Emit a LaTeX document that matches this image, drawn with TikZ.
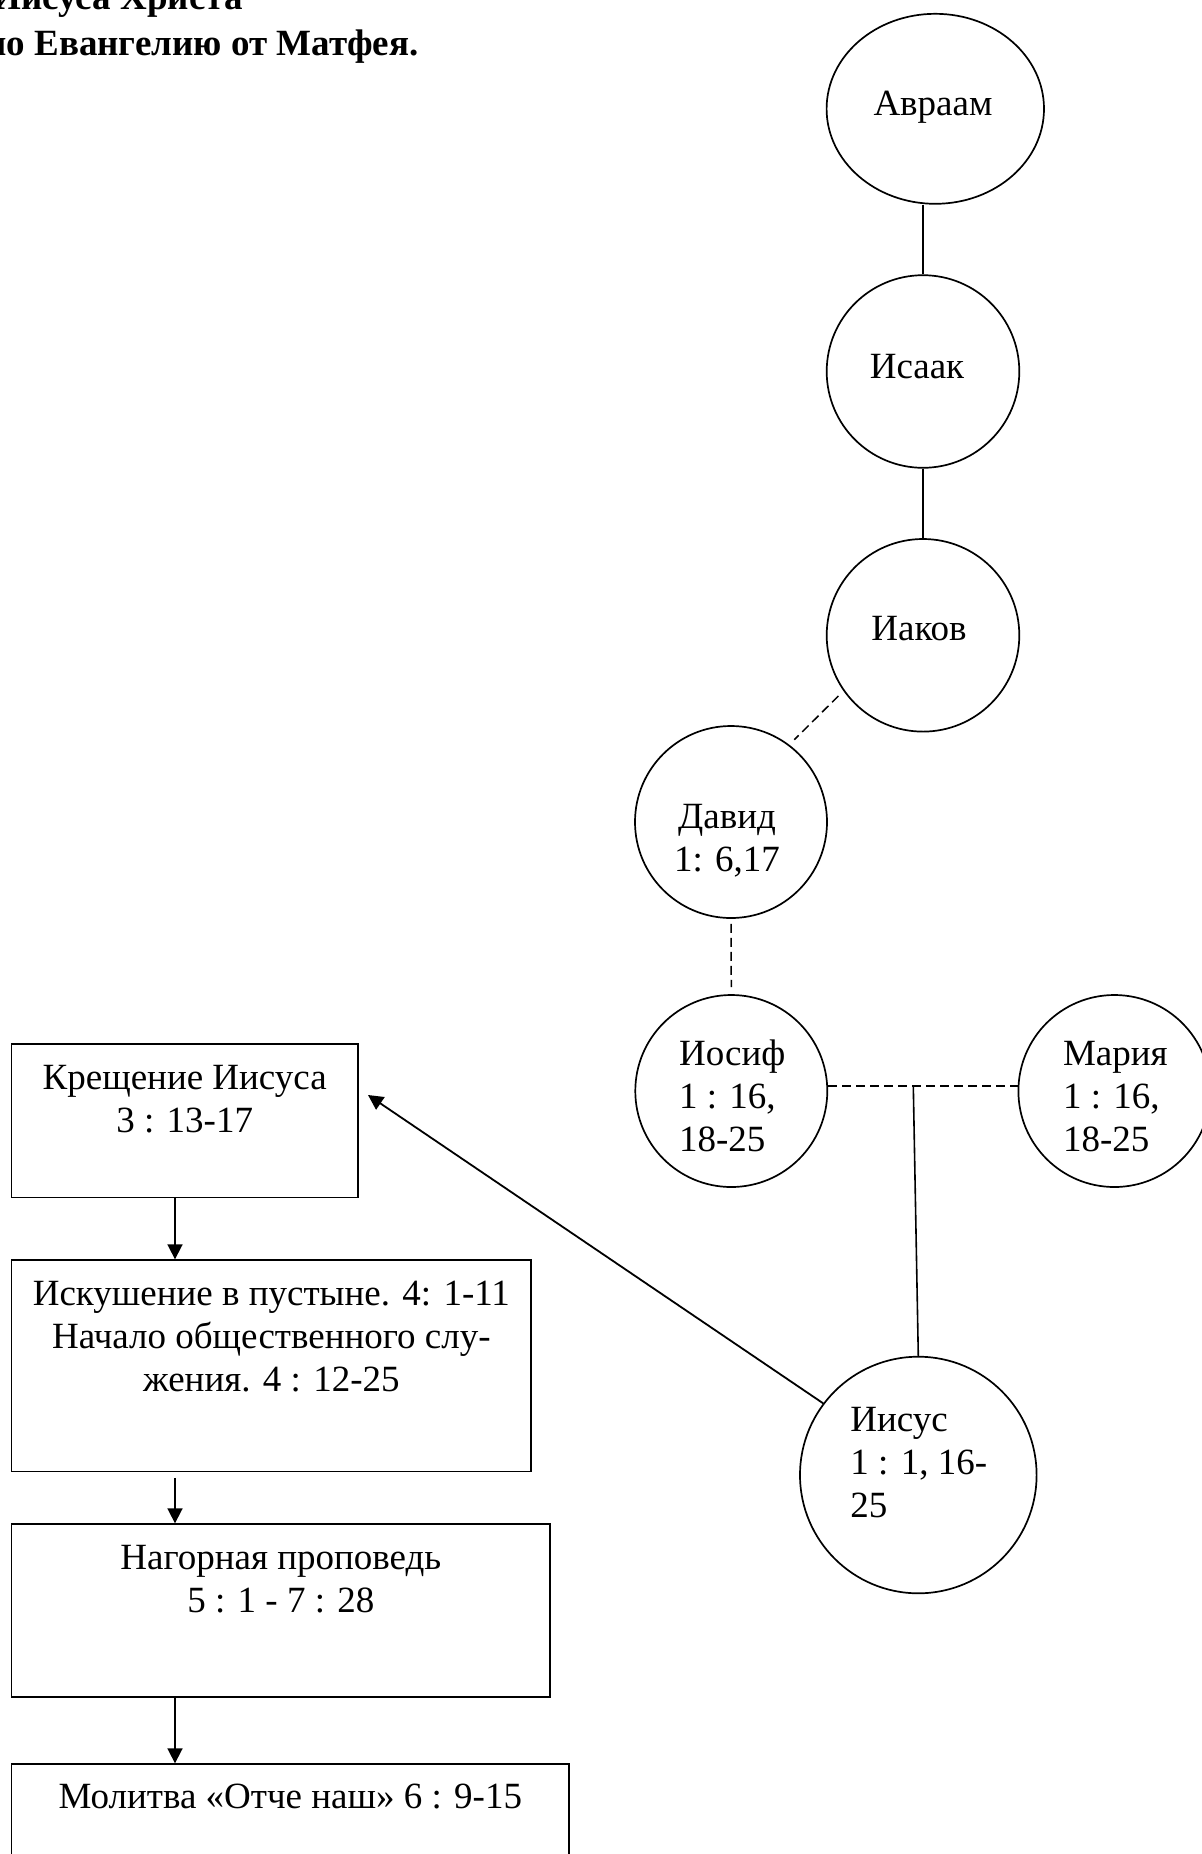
\documentclass[tikz,border=0pt]{standalone}
\usepackage{fontspec}
\setmainfont{Liberation Serif}
\usetikzlibrary{shapes.geometric,arrows.meta,calc}
\newcommand{\tlines}[2][c]{\begin{tabular}[t]{@{}#1@{}}#2\end{tabular}}
\newcommand{\bodyfont}{\fontsize{18.5}{21.5}\selectfont}
\begin{document}
\begin{tikzpicture}[x=0.5pt,y=-0.5pt,
  famcircle/.style={circle,draw,line width=0.85pt,inner sep=0pt,minimum size=#1},
  famellipse/.style={ellipse,draw,line width=0.85pt,inner sep=0pt},
  boxnode/.style={rectangle,draw,line width=0.85pt,inner sep=0pt,anchor=north west},
  txt/.style={inner sep=0pt,font=\bodyfont},
  ttl/.style={inner sep=0pt,font=\bodyfont\bfseries},
  conn/.style={line width=0.8pt},
  dsh/.style={line width=0.75pt,dash pattern=on 4.5pt off 2.5pt},
  arr/.style={line width=0.9pt,-{Triangle[length=7.5pt,width=7.5pt]}}]
\useasboundingbox (0,0) rectangle (1202,1854);
\clip (0,0) rectangle (1202,1854);
\fill[white] (0,0) rectangle (1202,1854);

% title (cut off by the page edge)
\node[ttl,anchor=base west] (title1) at (-8,9) {Иисуса Христа};
\node[ttl,anchor=base west] (title2) at (-15,55) {по Евангелию от Матфея.};

% genealogy circles
\node[famellipse,minimum width=108.7pt,minimum height=95pt] (avraam) at (935.3,108.8) {};
\node[famcircle=96.3pt] (isaak) at (923,371.5) {};
\node[famcircle=96.3pt] (iakov) at (923,635.3) {};
\node[famcircle=96pt] (david) at (731,822) {};
\node[famcircle=96pt] (iosif) at (731.3,1091) {};
\node[famcircle=96pt] (maria) at (1114.4,1091) {};
\node[famcircle=118.3pt] (jesus) at (918.3,1475) {};

\node[txt,anchor=base] (tavraam) at (933,115) {Авраам};
\node[txt,anchor=base] (tisaak) at (917,378) {Исаак};
\node[txt,anchor=base] (tiakov) at (919,640) {Иаков};
\node[txt,anchor=base] (tdavid) at (727,828) {\tlines{Давид\\1: 6,17}};
\node[txt,anchor=base west] (tiosif) at (678.7,1065) {\tlines[l]{Иосиф\\1 : 16,\\18-25}};
\node[txt,anchor=base west] (tmaria) at (1062.6,1065) {\tlines[l]{Мария\\1 : 16,\\18-25}};
\node[txt,anchor=base west] (tjesus) at (850,1431.7) {\tlines[l]{Иисус\\1 : 1, 16-\\25}};

% genealogy connectors
\draw[conn] (isaak.north) -- (isaak.north |- avraam.south);
\draw[conn] (isaak.south) -- (iakov.north);
\draw[dsh,shorten <=3.5pt,shorten >=3.5pt] (iakov.215) -- (david.53);
\draw[dsh,shorten <=2.5pt,shorten >=3.5pt] (david.south) -- (iosif.north);
\draw[dsh] (iosif.3) -- (maria.177);
\coordinate (mid) at (913.3,1086);
\draw[conn] (mid) -- (jesus.north);

% event boxes
\node[boxnode,minimum width=173.15pt,minimum height=76.7pt] (box1) at (10.7,1043.3) {};
\node[boxnode,minimum width=259.85pt,minimum height=105.7pt] (box2) at (10.7,1259.3) {};
\node[boxnode,minimum width=269.3pt,minimum height=86.35pt] (box3) at (10.7,1523.3) {};
\node[boxnode,minimum width=278.8pt,minimum height=68.35pt] (box4) at (10.7,1763.3) {};

\node[txt,anchor=base] (tb1) at ($(box1.north)+(0,45.7)$) {\tlines{Крещение Иисуса\\3 : 13-17}};
\node[txt,anchor=base] (tb2) at ($(box2.north)+(0,45.7)$) {\tlines{Искушение в пустыне. 4: 1-11\\Начало общественного слу-\\жения. 4 : 12-25}};
\node[txt,anchor=base] (tb3) at ($(box3.north)+(0,46)$) {\tlines{Нагорная проповедь\\5 : 1 - 7 : 28}};
\node[txt,anchor=base] (tb4) at ($(box4.north)+(0,45)$) {Молитва «Отче наш» 6 : 9-15};

% arrows
\coordinate (ax) at (175,0);
\draw[arr] (box1.south -| ax) -- (box2.north -| ax);
\draw[arr] ($(box2.south -| ax)+(0,5.5)$) -- (box3.north -| ax);
\draw[arr] (box3.south -| ax) -- (box4.north -| ax);
\coordinate (tipK) at (368,1095);
\draw[arr] (jesus.143.6) -- (tipK);
\end{tikzpicture}
\end{document}
